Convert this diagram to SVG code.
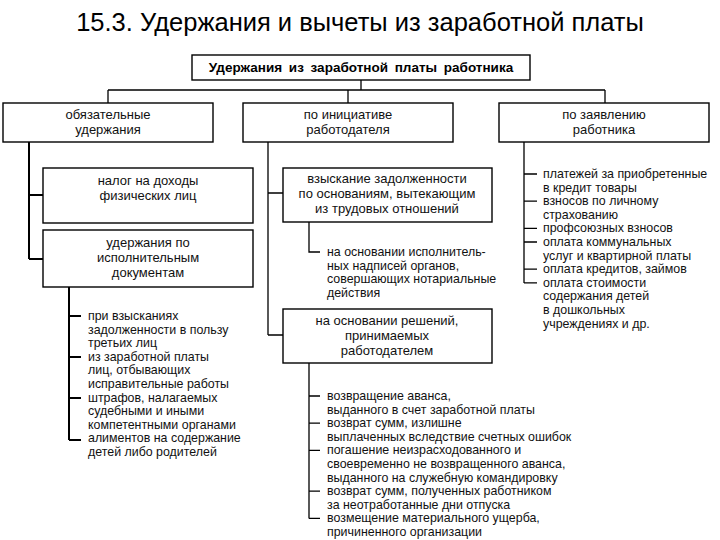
<svg xmlns="http://www.w3.org/2000/svg" width="720" height="540" viewBox="0 0 720 540">
<style>
.bg{fill:#ffffff}
.box{fill:#ffffff;stroke:#000;stroke-width:1.4}
.ln{fill:none;stroke:#000;stroke-width:1.3}
.sp{fill:none;stroke:#000;stroke-width:2}
.t{font-family:"Liberation Sans",Arial,sans-serif;font-size:13px;fill:#111;text-anchor:middle}
.l{font-family:"Liberation Sans",Arial,sans-serif;font-size:12.4px;fill:#111}
.h{font-family:"Liberation Sans",Arial,sans-serif;font-size:13.5px;font-weight:bold;fill:#000;text-anchor:middle;word-spacing:3px}
.title{font-family:"Liberation Sans",Arial,sans-serif;font-size:25.5px;fill:#000;text-anchor:middle}
</style>
<rect class="bg" x="0" y="0" width="720" height="540"/>
<text class="title" x="360" y="31">15.3. Удержания и вычеты из заработной платы</text>

<g id="connectors">
<path class="ln" d="M361 80V90M108 90H605M108 90V103M348 90V103M605 90V103"/>
<path class="sp" d="M29 142V259M29 195H43M29 259H43"/>
<path class="sp" d="M69 287V440M69 316H81M69 357H81M69 398H81M69 440H81"/>
<path class="ln" d="M268 142V335M268 193H283M268 335H283"/>
<path class="ln" d="M309 222V252H320"/>
<path class="ln" d="M309 363V518.4M309 396H320M309 423.2H320M309 450.4H320M309 491.2H320M309 518.4H320"/>
<path class="ln" d="M524 142V283M524 174H537M524 201.2H537M524 228.4H537M524 242H537M524 269.2H537M524 282.8H537"/>
</g>

<g id="root">
<rect class="box" x="192" y="55" width="338" height="25"/>
<text class="h" x="361" y="72">Удержания из заработной платы работника</text>
</g>

<g id="mandatory">
<rect class="box" x="3" y="103" width="210" height="39"/>
<text class="t" x="108" y="119">обязательные</text>
<text class="t" x="108" y="134">удержания</text>
</g>
<g id="employer">
<rect class="box" x="243" y="103" width="210" height="39"/>
<text class="t" x="348" y="119">по инициативе</text>
<text class="t" x="348" y="134">работодателя</text>
</g>
<g id="employee">
<rect class="box" x="499" y="103" width="210" height="39"/>
<text class="t" x="604" y="119">по заявлению</text>
<text class="t" x="604" y="134">работника</text>
</g>

<g id="ndfl">
<rect class="box" x="43" y="168" width="210" height="55"/>
<text class="t" x="148" y="185">налог на доходы</text>
<text class="t" x="148" y="200">физических лиц</text>
</g>
<g id="ispoln">
<rect class="box" x="43" y="230" width="210" height="57"/>
<text class="t" x="148" y="247">удержания по</text>
<text class="t" x="148" y="262">исполнительным</text>
<text class="t" x="148" y="277">документам</text>
</g>

<g id="ispoln-list">
<text class="l" x="88" y="320">при взысканиях</text>
<text class="l" x="88" y="333.6">задолженности в пользу</text>
<text class="l" x="88" y="347.2">третьих лиц</text>
<text class="l" x="88" y="360.8">из заработной платы</text>
<text class="l" x="88" y="374.4">лиц, отбывающих</text>
<text class="l" x="88" y="388">исправительные работы</text>
<text class="l" x="88" y="401.6">штрафов, налагаемых</text>
<text class="l" x="88" y="415.2">судебными и иными</text>
<text class="l" x="88" y="428.8">компетентными органами</text>
<text class="l" x="88" y="442.4">алиментов на содержание</text>
<text class="l" x="88" y="456">детей либо родителей</text>
</g>

<g id="vzysk">
<rect class="box" x="283" y="168" width="209" height="54"/>
<text class="t" x="387" y="183">взыскание задолженности</text>
<text class="t" x="387" y="198">по основаниям, вытекающим</text>
<text class="t" x="387" y="213">из трудовых отношений</text>
</g>
<g id="vzysk-list">
<text class="l" x="327" y="256">на основании исполнитель-</text>
<text class="l" x="327" y="269.6">ных надписей органов,</text>
<text class="l" x="327" y="283.2">совершающих нотариальные</text>
<text class="l" x="327" y="296.8">действия</text>
</g>

<g id="resh">
<rect class="box" x="283" y="309" width="209" height="54"/>
<text class="t" x="387" y="325">на основании решений,</text>
<text class="t" x="387" y="340">принимаемых</text>
<text class="t" x="387" y="355">работодателем</text>
</g>
<g id="resh-list">
<text class="l" x="327" y="400">возвращение аванса,</text>
<text class="l" x="327" y="413.6">выданного в счет заработной платы</text>
<text class="l" x="327" y="427.2">возврат сумм, излишне</text>
<text class="l" x="327" y="440.8">выплаченных вследствие счетных ошибок</text>
<text class="l" x="327" y="454.4">погашение неизрасходованного и</text>
<text class="l" x="327" y="468">своевременно не возвращенного аванса,</text>
<text class="l" x="327" y="481.6">выданного на служебную командировку</text>
<text class="l" x="327" y="495.2">возврат сумм, полученных работником</text>
<text class="l" x="327" y="508.8">за неотработанные дни отпуска</text>
<text class="l" x="327" y="522.4">возмещение материального ущерба,</text>
<text class="l" x="327" y="536">причиненного организации</text>
</g>

<g id="zayav-list">
<text class="l" x="543" y="178">платежей за приобретенные</text>
<text class="l" x="543" y="191.6">в кредит товары</text>
<text class="l" x="543" y="205.2">взносов по личному</text>
<text class="l" x="543" y="218.8">страхованию</text>
<text class="l" x="543" y="232.4">профсоюзных взносов</text>
<text class="l" x="543" y="246">оплата коммунальных</text>
<text class="l" x="543" y="259.6">услуг и квартирной платы</text>
<text class="l" x="543" y="273.2">оплата кредитов, займов</text>
<text class="l" x="543" y="286.8">оплата стоимости</text>
<text class="l" x="543" y="300.4">содержания детей</text>
<text class="l" x="543" y="314">в дошкольных</text>
<text class="l" x="543" y="327.6">учреждениях и др.</text>
</g>
</svg>
